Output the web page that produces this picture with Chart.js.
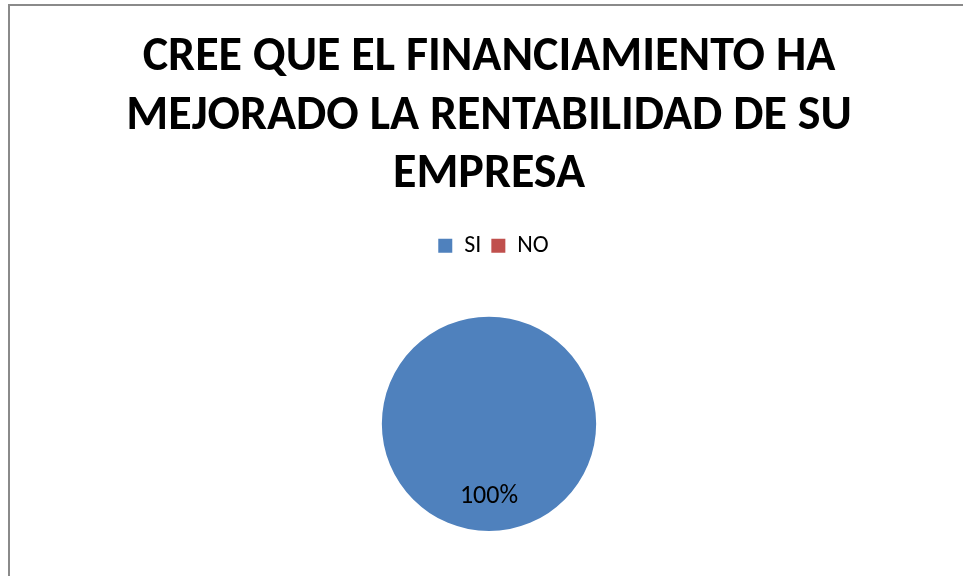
<!DOCTYPE html>
<html>
<head>
<meta charset="utf-8">
<script src="https://cdn.jsdelivr.net/npm/chart.js@4/dist/chart.umd.min.js"></script>
<style>
  html, body { margin: 0; padding: 0; background: #fff; overflow: hidden; }
  #wrap { position: absolute; left: 0; top: 0; width: 963px; height: 576px; }
  #frame { position: absolute; left: 8px; top: 4px; width: 1000px; height: 700px; border: 2px solid #8a8a8a; box-sizing: border-box; pointer-events: none; }
  canvas { position: absolute; left: 0; top: 0; }
</style>
</head>
<body>
<div id="wrap">
  <div id="frame"></div>
  <canvas id="c" width="963" height="576"></canvas>
</div>
<script>
const TITLE_LINES = ['CREE QUE EL FINANCIAMIENTO HA', 'MEJORADO LA RENTABILIDAD DE SU', 'EMPRESA'];
const CATEGORIES = ['SI', 'NO'];
const VALUES = [100, 0];
const COLORS = ['#4F81BD', '#C0504D'];

const FONT = "Carlito, Lato, 'Liberation Sans', sans-serif";

const legendSpacer = {
  id: 'legendSpacer',
  beforeInit(chart) {
    const lg = chart.legend;
    const orig = lg.fit;
    lg.fit = function () {
      orig.call(this);
      this.height += 49;
    };
  },
  afterLayout(chart) {
    chart.legend.left += 9;
  }
};

const pctLabels = {
  id: 'pctLabels',
  afterDatasetsDraw(chart) {
    const ctx = chart.ctx;
    const meta = chart.getDatasetMeta(0);
    const data = chart.data.datasets[0].data;
    const total = data.reduce((a, b) => a + b, 0);
    ctx.save();
    ctx.font = "26px " + FONT;
    ctx.fillStyle = '#000';
    ctx.textAlign = 'center';
    ctx.textBaseline = 'middle';
    meta.data.forEach((arc, i) => {
      if (!data[i]) return;
      const p = arc.getProps(['x', 'y', 'startAngle', 'endAngle', 'outerRadius'], true);
      const mid = (p.startAngle + p.endAngle) / 2;
      const r = p.outerRadius * 0.68;
      const txt = Math.round(data[i] / total * 100) + '%';
      ctx.fillText(txt, p.x + Math.cos(mid) * r, p.y + Math.sin(mid) * r);
    });
    ctx.restore();
  }
};

new Chart(document.getElementById('c'), {
  type: 'pie',
  data: {
    labels: CATEGORIES,
    datasets: [{
      data: VALUES,
      backgroundColor: COLORS,
      borderWidth: 0
    }]
  },
  options: {
    responsive: false,
    animation: false,
    layout: { padding: { left: 15, right: 0, top: 0, bottom: 45 } },
    plugins: {
      title: {
        display: true,
        text: TITLE_LINES,
        color: '#000',
        font: { family: FONT, size: 48, weight: 'bold', lineHeight: 1.22 },
        padding: { top: 29, bottom: 19 }
      },
      legend: {
        display: true,
        position: 'top',
        labels: {
          color: '#000',
          font: { family: FONT, size: 24 },
          boxWidth: 14,
          boxHeight: 14,
          padding: 10
        }
      },
      tooltip: { enabled: false }
    }
  },
  plugins: [legendSpacer, pctLabels]
});
</script>
</body>
</html>
